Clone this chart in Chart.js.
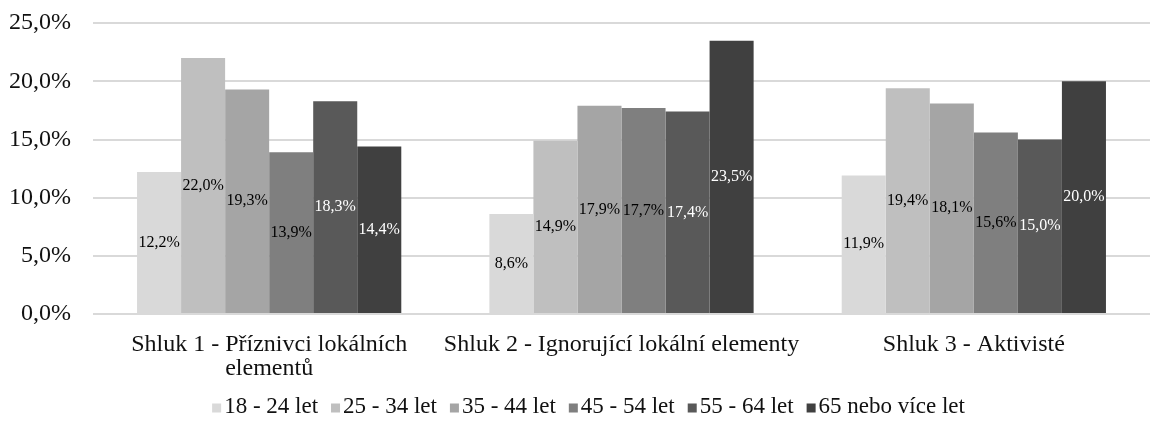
<!DOCTYPE html>
<html>
<head>
<meta charset="utf-8">
<script src="https://cdn.jsdelivr.net/npm/chart.js@4/dist/chart.umd.min.js"></script>
<style>
  html, body { margin: 0; padding: 0; background: #ffffff; }
  #wrap { width: 1157px; height: 427px; position: relative; }
</style>
</head>
<body>
<div id="wrap"><canvas id="c"></canvas></div>
<script>
// Clusters (x categories); the first label wraps onto two lines
const categories = [
  ["Shluk 1 - Příznivci lokálních", "elementů"],
  "Shluk 2 - Ignorující lokální elementy",
  "Shluk 3 - Aktivisté"
];

// Age groups (series)
const ageGroups = ["18 - 24 let", "25 - 34 let", "35 - 44 let", "45 - 54 let", "55 - 64 let", "65 nebo více let"];

// Share of respondents per age group in each cluster (%)
const age18_24 = [12.2, 8.6, 11.9];
const age25_34 = [22.0, 14.9, 19.4];
const age35_44 = [19.3, 17.9, 18.1];
const age45_54 = [13.9, 17.7, 15.6];
const age55_64 = [18.3, 17.4, 15.0];
const age65plus = [14.4, 23.5, 20.0];

const seriesValues = [age18_24, age25_34, age35_44, age45_54, age55_64, age65plus];

// Y axis ticks
const yTicks = [0, 5, 10, 15, 20, 25];

const barColors = ["#d9d9d9", "#bfbfbf", "#a5a5a5", "#7f7f7f", "#595959", "#404040"];
const labelColors = ["#000000", "#000000", "#000000", "#000000", "#ffffff", "#ffffff"];

const FONT = "'Liberation Serif', 'Times New Roman', serif";
const TEXT = '#111111';

function fmt(v) {
  return v.toFixed(1).replace('.', ',') + '%';
}

// Value labels centred inside each bar
const barValueLabels = {
  id: 'barValueLabels',
  afterDatasetsDraw(chart) {
    const ctx = chart.ctx;
    ctx.save();
    ctx.font = "16px " + FONT;
    ctx.textAlign = 'center';
    ctx.textBaseline = 'middle';
    chart.data.datasets.forEach((ds, i) => {
      const meta = chart.getDatasetMeta(i);
      meta.data.forEach((bar, j) => {
        const v = ds.data[j];
        const y = (bar.y + bar.base) / 2;
        ctx.fillStyle = labelColors[i];
        ctx.fillText(fmt(v), bar.x, y);
      });
    });
    ctx.restore();
  }
};

// Compact bottom legend: small square swatch tight against its text
const bottomLegend = {
  id: 'bottomLegend',
  afterDraw(chart) {
    const ctx = chart.ctx;
    const box = 9, gapText = 3, gapItem = 13, fontSize = 23;
    const y = 407;
    ctx.save();
    ctx.font = fontSize + "px " + FONT;
    ctx.textBaseline = 'middle';
    ctx.textAlign = 'left';
    const widths = ageGroups.map(t => box + gapText + ctx.measureText(t).width);
    const total = widths.reduce((a, b) => a + b, 0) + gapItem * (ageGroups.length - 1);
    let x = (chart.width - total) / 2 + 10;
    ageGroups.forEach((t, i) => {
      ctx.fillStyle = barColors[i];
      ctx.fillRect(x, y - box / 2 + 1, box, box);
      ctx.fillStyle = TEXT;
      ctx.fillText(t, x + box + gapText, y);
      x += widths[i] + gapItem;
    });
    ctx.restore();
  }
};

const datasets = ageGroups.map((name, i) => ({
  label: name,
  data: seriesValues[i],
  backgroundColor: barColors[i],
  borderWidth: 0,
  categoryPercentage: 0.75,
  barPercentage: 1.0
}));

new Chart(document.getElementById('c'), {
  type: 'bar',
  data: { labels: categories, datasets },
  plugins: [barValueLabels, bottomLegend],
  options: {
    responsive: true,
    maintainAspectRatio: false,
    animation: false,
    layout: { padding: { left: -13, right: 7, top: 6, bottom: 27 } },
    plugins: {
      tooltip: { enabled: false },
      legend: { display: false }
    },
    scales: {
      x: {
        grid: { display: false, drawTicks: false },
        border: { display: false },
        ticks: {
          font: { family: FONT, size: 24, lineHeight: 1.0 },
          color: TEXT,
          maxRotation: 0,
          autoSkip: false,
          padding: 19
        }
      },
      y: {
        min: 0,
        max: 25,
        afterBuildTicks(axis) {
          axis.ticks = yTicks.map(v => ({ value: v }));
        },
        grid: { color: '#d9d9d9', lineWidth: 2, drawTicks: false },
        border: { display: false },
        ticks: {
          font: { family: FONT, size: 24, lineHeight: 0.1 },
          color: TEXT,
          padding: 22,
          callback: v => fmt(v)
        }
      }
    }
  }
});
</script>
</body>
</html>
